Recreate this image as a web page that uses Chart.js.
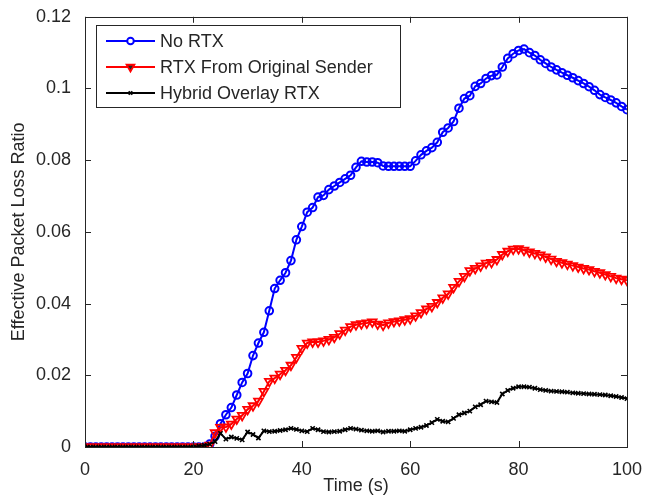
<!DOCTYPE html>
<html>
<head>
<meta charset="utf-8">
<title>Effective Packet Loss Ratio</title>
<script src="https://cdn.jsdelivr.net/npm/chart.js@4"></script>
<style>
  body { margin: 0; background: #fff; }
  #lossChart { display: block; }
</style>
</head>
<body>
<canvas id="lossChart" width="646" height="497"></canvas>
<script>
// Sample times, one per second
const times = Array.from({ length: 101 }, (_, i) => i);

// Effective loss ratio for each scheme, t = 0..100 s
const noRtx = [
  0, 0, 0, 0, 0, 0, 0, 0, 0, 0,
  0, 0, 0, 0, 0, 0, 0, 0, 0, 0,
  0, 0, 0, 0.0008, 0.003, 0.0065, 0.009, 0.011, 0.0145, 0.018,
  0.0205, 0.0255, 0.029, 0.032, 0.038, 0.0442, 0.0465, 0.0486, 0.052, 0.0578,
  0.0615, 0.0655, 0.0668, 0.0697, 0.0702, 0.0718, 0.0728, 0.0738, 0.0748, 0.0758,
  0.078, 0.0797, 0.0795, 0.0795, 0.0793, 0.0784, 0.0783, 0.0783, 0.0783, 0.0783,
  0.0783, 0.0798, 0.0815, 0.0826, 0.0835, 0.085, 0.0878, 0.089, 0.0908, 0.0945,
  0.0972, 0.098, 0.1006, 0.1014, 0.1028, 0.1036, 0.1038, 0.106, 0.1084, 0.1097,
  0.1106, 0.111, 0.110, 0.1092, 0.108, 0.107, 0.106, 0.1052, 0.1044, 0.1037,
  0.103, 0.1022, 0.1014, 0.1005, 0.0995, 0.0983, 0.0975, 0.0968, 0.096, 0.095,
  0.0941
];
const rtxOriginal = [
  0, 0, 0, 0, 0, 0, 0, 0, 0, 0,
  0, 0, 0, 0, 0, 0, 0, 0, 0, 0,
  0, 0, 0, 0.0005, 0.004, 0.0055, 0.0056, 0.0064, 0.0078, 0.0088,
  0.0105, 0.0115, 0.0128, 0.0155, 0.0183, 0.0192, 0.0203, 0.0214, 0.0228, 0.025,
  0.0275, 0.029, 0.0293, 0.0293, 0.0296, 0.03, 0.0306, 0.0316, 0.0326, 0.0336,
  0.0341, 0.0344, 0.0346, 0.0349, 0.0343, 0.034, 0.0346, 0.035, 0.0352, 0.0355,
  0.0358, 0.0366, 0.0375, 0.0385, 0.0392, 0.0403, 0.0416, 0.0427, 0.0445, 0.0462,
  0.0476, 0.0492, 0.0498, 0.0505, 0.0513, 0.0515, 0.0523, 0.0537, 0.0546, 0.0552,
  0.0553, 0.0549, 0.0544, 0.054, 0.0536, 0.053, 0.0524, 0.0518, 0.0514, 0.051,
  0.0506, 0.0502, 0.0498, 0.0495, 0.049, 0.0486, 0.0481, 0.0476, 0.0471, 0.0468,
  0.0465
];
const hybridOverlay = [
  0, 0, 0, 0, 0, 0, 0, 0, 0, 0,
  0, 0, 0, 0, 0, 0, 0, 0, 0, 0,
  0, 0.0003, 0.0005, 0.0008, 0.0015, 0.0038, 0.0022, 0.0028, 0.0024, 0.002,
  0.0042, 0.0035, 0.0025, 0.0045, 0.0043, 0.0044, 0.0046, 0.0048, 0.0052, 0.0049,
  0.0045, 0.0043, 0.0052, 0.0048, 0.0043, 0.0042, 0.0043, 0.0044, 0.0048, 0.0052,
  0.005, 0.0047, 0.0045, 0.0044, 0.0045, 0.0042, 0.0044, 0.0044, 0.0045, 0.0044,
  0.0048, 0.0052, 0.0055, 0.006, 0.0068, 0.0077, 0.0072, 0.007, 0.008, 0.009,
  0.0095, 0.01, 0.0112, 0.0118, 0.0128, 0.0126, 0.0124, 0.0148, 0.0158, 0.0164,
  0.0168, 0.0168, 0.0167, 0.0164, 0.016, 0.0158, 0.0156, 0.0155, 0.0154, 0.0153,
  0.0151, 0.015, 0.0149, 0.0148, 0.0147, 0.0146, 0.0145, 0.0143, 0.0141, 0.0138,
  0.0135
];

const xTickLabels = ['0', '20', '40', '60', '80', '100'];
const yTickLabels = ['0', '0.02', '0.04', '0.06', '0.08', '0.1', '0.12'];

const FONT = 'Arial, "Liberation Sans", Helvetica, sans-serif';
const TEXT_COLOR = '#262626';

function toPoints(values) {
  return values.map((v, i) => ({ x: times[i], y: v }));
}

// Box around the axes with inward ticks on all four sides
const frameAndTicks = {
  id: 'frameAndTicks',
  afterDatasetsDraw(chart) {
    const { ctx, chartArea: a, scales } = chart;
    const len = 6;
    ctx.save();
    ctx.strokeStyle = '#262626';
    ctx.lineWidth = 1;
    ctx.beginPath();
    scales.x.ticks.forEach(t => {
      const px = Math.round(scales.x.getPixelForValue(t.value)) + 0.5;
      ctx.moveTo(px, a.bottom); ctx.lineTo(px, a.bottom - len);
      ctx.moveTo(px, a.top); ctx.lineTo(px, a.top + len);
    });
    scales.y.ticks.forEach(t => {
      const py = Math.round(scales.y.getPixelForValue(t.value)) + 0.5;
      ctx.moveTo(a.left, py); ctx.lineTo(a.left + len, py);
      ctx.moveTo(a.right, py); ctx.lineTo(a.right - len, py);
    });
    ctx.stroke();
    ctx.strokeRect(Math.round(a.left) + 0.5, Math.round(a.top) + 0.5,
      Math.round(a.right - a.left), Math.round(a.bottom - a.top));
    ctx.restore();
  }
};

// Legend box in the upper-left corner of the axes
const boxLegend = {
  id: 'boxLegend',
  afterDraw(chart) {
    const { ctx } = chart;
    const box = { x: 96.5, y: 25.5, w: 304, h: 82 };
    const rows = [41, 67, 93];
    ctx.save();
    ctx.fillStyle = '#fff';
    ctx.fillRect(box.x, box.y, box.w, box.h);
    ctx.strokeStyle = '#262626';
    ctx.lineWidth = 1;
    ctx.strokeRect(box.x, box.y, box.w, box.h);
    chart.data.datasets.forEach((ds, i) => {
      const y = rows[i];
      ctx.strokeStyle = ds.borderColor;
      ctx.lineWidth = ds.borderWidth;
      ctx.beginPath();
      ctx.moveTo(106, y); ctx.lineTo(155, y);
      ctx.stroke();
      ctx.lineWidth = ds.pointBorderWidth;
      Chart.helpers.drawPoint(ctx, {
        pointStyle: ds.pointStyle,
        radius: ds.pointRadius - 0.5,
        rotation: ds.pointRotation || 0,
        borderWidth: ds.pointBorderWidth
      }, 130.5, y);
      ctx.fillStyle = TEXT_COLOR;
      ctx.font = '18px ' + FONT;
      ctx.textBaseline = 'middle';
      ctx.textAlign = 'left';
      ctx.fillText(ds.label, 160, y + 1);
    });
    ctx.restore();
  }
};

const ctx = document.getElementById('lossChart').getContext('2d');
new Chart(ctx, {
  type: 'line',
  data: {
    datasets: [
      {
        label: 'No RTX',
        data: toPoints(noRtx),
        borderColor: 'rgb(0, 0, 255)',
        backgroundColor: 'rgba(0, 0, 0, 0)',
        borderWidth: 2,
        pointStyle: 'circle',
        pointRadius: 3.8,
        pointBorderWidth: 2,
        pointBorderColor: 'rgb(0, 0, 255)',
        pointBackgroundColor: 'rgba(0, 0, 0, 0)',
        order: 2
      },
      {
        label: 'RTX From Original Sender',
        data: toPoints(rtxOriginal),
        borderColor: 'rgb(255, 0, 0)',
        backgroundColor: 'rgba(0, 0, 0, 0)',
        borderWidth: 2,
        pointStyle: 'triangle',
        pointRotation: 180,
        pointRadius: 5,
        pointBorderWidth: 1.8,
        pointBorderColor: 'rgb(255, 0, 0)',
        pointBackgroundColor: 'rgba(0, 0, 0, 0)',
        order: 1
      },
      {
        label: 'Hybrid Overlay RTX',
        data: toPoints(hybridOverlay),
        borderColor: '#000',
        backgroundColor: 'rgba(0, 0, 0, 0)',
        borderWidth: 2,
        pointStyle: 'crossRot',
        pointRadius: 3,
        pointBorderWidth: 1.6,
        pointBorderColor: '#000',
        order: 0
      }
    ]
  },
  options: {
    responsive: false,
    animation: false,
    events: [],
    layout: { padding: { top: 16, right: 17, left: 0, bottom: 0 } },
    elements: { line: { tension: 0 } },
    plugins: {
      legend: { display: false },
      tooltip: { enabled: false }
    },
    scales: {
      x: {
        type: 'linear',
        min: 0,
        max: 100,
        afterFit(scale) { scale.height = 50; },
        ticks: {
          stepSize: 20,
          padding: 4,
          color: TEXT_COLOR,
          font: { family: FONT, size: 18 },
          maxRotation: 0,
          callback: (value, index) => xTickLabels[index]
        },
        grid: { display: false },
        border: { display: false },
        title: {
          display: true,
          text: 'Time (s)',
          color: TEXT_COLOR,
          font: { family: FONT, size: 18 },
          padding: { top: 0, bottom: 0 }
        }
      },
      y: {
        min: 0,
        max: 0.12,
        afterFit(scale) { scale.width = 85; },
        ticks: {
          stepSize: 0.02,
          padding: 6,
          color: TEXT_COLOR,
          font: { family: FONT, size: 18 },
          callback: (value, index) => yTickLabels[index]
        },
        grid: { display: false },
        border: { display: false },
        title: {
          display: true,
          text: 'Effective Packet Loss Ratio',
          color: TEXT_COLOR,
          font: { family: FONT, size: 18 },
          padding: { top: 8, bottom: 0 }
        }
      }
    }
  },
  plugins: [frameAndTicks, boxLegend]
});
</script>
</body>
</html>
